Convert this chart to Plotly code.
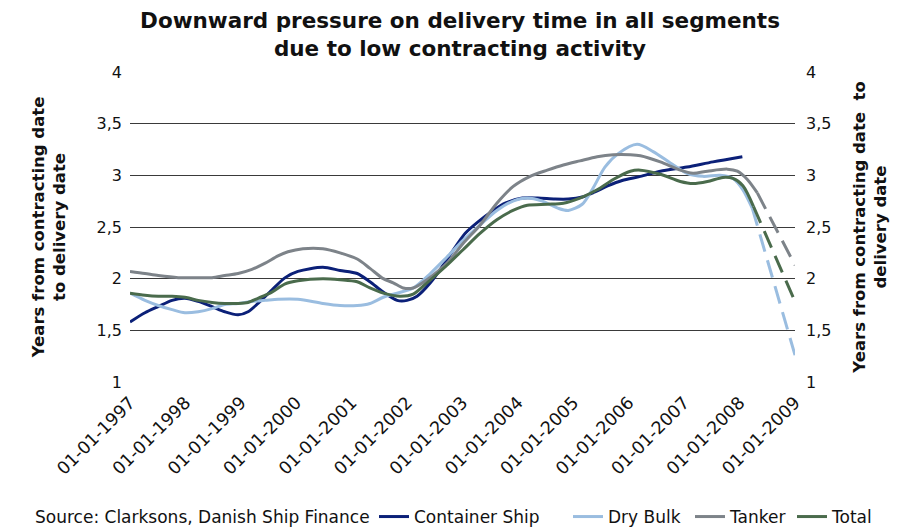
import plotly.graph_objects as go

# decimal years
container_x = [1997.0, 1997.27, 1997.51, 1997.76, 1997.99, 1998.23, 1998.48, 1998.71, 1998.95, 1999.13,
               1999.31, 1999.56, 1999.80, 2000.03, 2000.48, 2000.79, 2001.10, 2001.33, 2001.57, 2001.82,
               2002.0, 2002.18, 2002.42, 2002.65, 2002.90, 2003.05, 2003.28, 2003.53, 2003.77, 2004.08,
               2004.36, 2004.67, 2004.91, 2005.16, 2005.39, 2005.63, 2005.88, 2006.21, 2006.57, 2007.05,
               2007.52, 2008.05]
container_y = [1.58, 1.67, 1.73, 1.79, 1.81, 1.78, 1.73, 1.68, 1.65, 1.68,
               1.76, 1.89, 2.01, 2.07, 2.11, 2.08, 2.05, 1.97, 1.87, 1.79,
               1.79, 1.83, 1.96, 2.13, 2.33, 2.44, 2.55, 2.65, 2.73, 2.78,
               2.78, 2.77, 2.77, 2.79, 2.84, 2.90, 2.95, 2.99, 3.04, 3.08,
               3.13, 3.18]

drybulk_x = [1997.0, 1997.27, 1997.51, 1997.76, 1997.99, 1998.23, 1998.48, 1998.71, 1998.95, 1999.20,
             1999.44, 1999.67, 2000.03, 2000.48, 2000.79, 2001.10, 2001.33, 2001.57, 2001.82, 2002.11,
             2002.42, 2002.72, 2003.01, 2003.32, 2003.62, 2003.91, 2004.17, 2004.44, 2004.73, 2004.91,
             2005.16, 2005.36, 2005.57, 2005.81, 2006.15, 2006.44, 2006.75, 2007.05, 2007.34, 2007.65,
             2007.88, 2008.06, 2008.23]
drybulk_y = [1.86, 1.79, 1.74, 1.70, 1.67, 1.68, 1.71, 1.75, 1.76, 1.78,
             1.79, 1.80, 1.80, 1.76, 1.74, 1.74, 1.76, 1.82, 1.86, 1.91,
             2.05, 2.21, 2.37, 2.52, 2.66, 2.75, 2.78, 2.75, 2.68, 2.66,
             2.72, 2.88, 3.08, 3.21, 3.30, 3.23, 3.12, 3.02, 2.99, 3.00,
             2.97, 2.86, 2.68]

tanker_x = [1997.0, 1997.27, 1997.51, 1997.87, 1998.23, 1998.48, 1998.71, 1998.95, 1999.20, 1999.44,
            1999.67, 1999.85, 2000.12, 2000.48, 2000.79, 2001.10, 2001.33, 2001.57, 2001.75, 2001.93,
            2002.11, 2002.36, 2002.72, 2003.01, 2003.32, 2003.62, 2003.91, 2004.22, 2004.53, 2004.82,
            2005.12, 2005.43, 2005.72, 2006.03, 2006.21, 2006.57, 2006.93, 2007.16, 2007.42, 2007.78,
            2007.96, 2008.14, 2008.32]
tanker_y = [2.07, 2.05, 2.03, 2.01, 2.01, 2.01, 2.03, 2.05, 2.09, 2.15,
            2.22, 2.26, 2.29, 2.29, 2.25, 2.19, 2.10, 2.00, 1.96, 1.91,
            1.91, 1.99, 2.15, 2.34, 2.52, 2.73, 2.89, 2.99, 3.05, 3.10,
            3.14, 3.18, 3.20, 3.20, 3.19, 3.13, 3.05, 3.02, 3.04, 3.06,
            3.04, 2.96, 2.83]

total_x = [1997.0, 1997.27, 1997.51, 1997.76, 1997.99, 1998.23, 1998.48, 1998.71, 1998.95, 1999.13,
           1999.31, 1999.56, 1999.80, 2000.03, 2000.48, 2000.79, 2001.10, 2001.33, 2001.57, 2001.87,
           2002.11, 2002.36, 2002.72, 2003.01, 2003.32, 2003.62, 2003.91, 2004.17, 2004.53, 2004.82,
           2005.12, 2005.43, 2005.72, 2006.03, 2006.21, 2006.57, 2006.93, 2007.16, 2007.42, 2007.70,
           2007.88, 2008.06, 2008.25]
total_y = [1.86, 1.84, 1.83, 1.83, 1.82, 1.79, 1.77, 1.76, 1.76, 1.77,
           1.81, 1.87, 1.95, 1.98, 2.00, 1.99, 1.97, 1.91, 1.86, 1.83,
           1.85, 1.96, 2.13, 2.28, 2.44, 2.57, 2.66, 2.71, 2.72, 2.73,
           2.78, 2.86, 2.96, 3.04, 3.05, 3.01, 2.94, 2.92, 2.94, 2.98,
           2.97, 2.90, 2.70]

# projections (dashed) to 01-01-2009
proj_drybulk_x = [2008.23, 2009.0]
proj_drybulk_y = [2.68, 1.26]
proj_tanker_x = [2008.32, 2009.0]
proj_tanker_y = [2.83, 2.13]
proj_total_x = [2008.25, 2009.0]
proj_total_y = [2.70, 1.78]

years = list(range(1997, 2010))
year_labels = ["01-01-%d" % y for y in years]

colors = {
    "Container Ship": "#0b2078",
    "Dry Bulk": "#9abde0",
    "Tanker": "#7d8389",
    "Total": "#4a6b4c",
}

series = [
    ("Container Ship", container_x, container_y),
    ("Dry Bulk", drybulk_x, drybulk_y),
    ("Tanker", tanker_x, tanker_y),
    ("Total", total_x, total_y),
]
projections = [
    ("Dry Bulk", proj_drybulk_x, proj_drybulk_y),
    ("Tanker", proj_tanker_x, proj_tanker_y),
    ("Total", proj_total_x, proj_total_y),
]

# the page body has an 8px margin, so the figure is drawn 8px in from the window corner
OFF = 8
W, H = 904 - OFF, 527 - OFF
L, T = 130 - OFF, 72 - OFF
R, B = W - (795 - OFF), H - (382 - OFF)
pw = W - L - R
ph = H - T - B


def px_x(x):
    return (x - OFF - L) / pw


def px_y(y):
    return (T + ph - (y - OFF)) / ph


fig = go.Figure()

# screen x of each legend box (line sample starts ~10px further right)
legend_px = {"Container Ship": 374, "Dry Bulk": 568, "Tanker": 690, "Total": 792}
legend_names = {"Container Ship": "legend", "Dry Bulk": "legend2", "Tanker": "legend3", "Total": "legend4"}

for name, xs, ys in series:
    fig.add_trace(go.Scatter(
        x=xs, y=ys, name=name, mode="lines",
        line=dict(color=colors[name], width=3, shape="spline", smoothing=0.8),
        legend=legend_names[name],
    ))

for name, xs, ys in projections:
    fig.add_trace(go.Scatter(
        x=xs, y=ys, name=name + " (projection)", mode="lines",
        line=dict(color=colors[name], width=3, dash="18px,9px"),
        showlegend=False, yaxis="y2",
    ))

ytick_font = dict(family="DejaVu Sans", size=16, color="#111111")
xtick_font = dict(family="DejaVu Sans", size=17.5, color="#111111")
ytitle_font = dict(family="DejaVu Sans", size=16.5, color="#111111")

fig.update_layout(
    width=W, height=H,
    margin=dict(l=L, r=R, t=T, b=B, autoexpand=False),
    paper_bgcolor="white", plot_bgcolor="white",
    separators=",.",
    font=dict(family="DejaVu Sans", color="#111111"),
    title=dict(
        text="Downward pressure on delivery time in all segments<br>due to low contracting activity",
        font=dict(family="DejaVu Sans", size=21.5, color="#111111", weight="bold"),
        x=(460 - OFF) / W, xanchor="center", xref="container",
        y=1 - 20 / H, yanchor="top", yref="container",
    ),
    xaxis=dict(
        range=[1997, 2009], tickvals=years, ticktext=year_labels,
        tickangle=-45, tickfont=xtick_font, showgrid=False, zeroline=False,
        showline=False, ticks="", ticklabelstandoff=6,
    ),
    yaxis=dict(
        range=[1, 4], dtick=0.5, tickformat=".1~f", tickfont=ytick_font,
        showgrid=True, gridcolor="#3a3a3a", gridwidth=1, zeroline=False,
        showline=False, ticks="", ticklabelstandoff=7,
        title=dict(text="<b>Years from contracting date<br>to delivery date</b>",
                   font=ytitle_font, standoff=26),
    ),
    yaxis2=dict(
        range=[1, 4], dtick=0.5, tickformat=".1~f", tickfont=ytick_font,
        overlaying="y", side="right", showgrid=False, zeroline=False,
        showline=False, ticks="", ticklabelstandoff=10,
        title=dict(text="<b>Years from contracting date  to<br>delivery date</b>",
                   font=ytitle_font, standoff=22),
    ),
    annotations=[dict(
        text="Source: Clarksons, Danish Ship Finance",
        xref="paper", yref="paper", x=px_x(33), y=px_y(517),
        xanchor="left", yanchor="middle", showarrow=False,
        font=dict(family="DejaVu Sans", size=17, color="#111111"),
    )],
)

for name, key in legend_names.items():
    fig.update_layout({key: dict(
        x=px_x(legend_px[name]), xanchor="left",
        y=px_y(517), yanchor="middle",
        orientation="h", bgcolor="rgba(0,0,0,0)",
        font=dict(family="DejaVu Sans", size=17, color="#111111"),
        itemwidth=30, tracegroupgap=0,
    )})

fig.write_html("out.html")
